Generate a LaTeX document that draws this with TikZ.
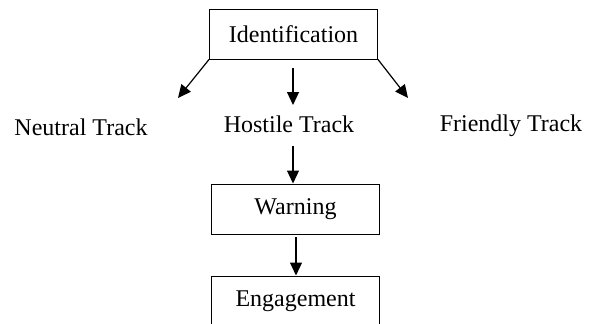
\documentclass[tikz,border=0pt]{standalone}
\usepackage{fontspec}
\setmainfont{Liberation Serif}
\usetikzlibrary{arrows.meta}
\begin{document}
\begin{tikzpicture}[x=1pt,y=-1pt,
  box/.style={draw, line width=1pt, minimum width=168pt, minimum height=50pt, inner sep=0pt,
    font=\fontsize{24}{28}\selectfont},
  lbl/.style={anchor=base, inner sep=0pt, font=\fontsize{24}{28}\selectfont},
  arr/.style={line width=1.2pt, -{Triangle[length=13pt,width=12pt]}}]
\useasboundingbox (0,0) rectangle (592,324);
\node[box] (id) at (293.5,34) {Identification};
\node[box] (warn) at (295.5,209) {Warning};
\node[box] (eng) at (295.5,301) {Engagement};
\node[lbl] (neu) at (81,135) {Neutral Track};
\node[lbl] (hos) at (289,132) {Hostile Track};
\node[lbl] (fri) at (511,131) {Friendly Track};
\coordinate (lt) at (178,98);
\coordinate (rt) at (408,98);
\coordinate (ms) at (293,68);
\coordinate (me) at (293,105);
\coordinate (hs) at (293,146);
\coordinate (ws) at (296,237);
\draw[arr] (id.south west) -- (lt);
\draw[arr] (id.south east) -- (rt);
\draw[arr] (ms) -- (me);
\draw[arr] (hs) -- (hs |- warn.north);
\draw[arr] (ws) -- (ws |- eng.north);
\end{tikzpicture}
\end{document}
